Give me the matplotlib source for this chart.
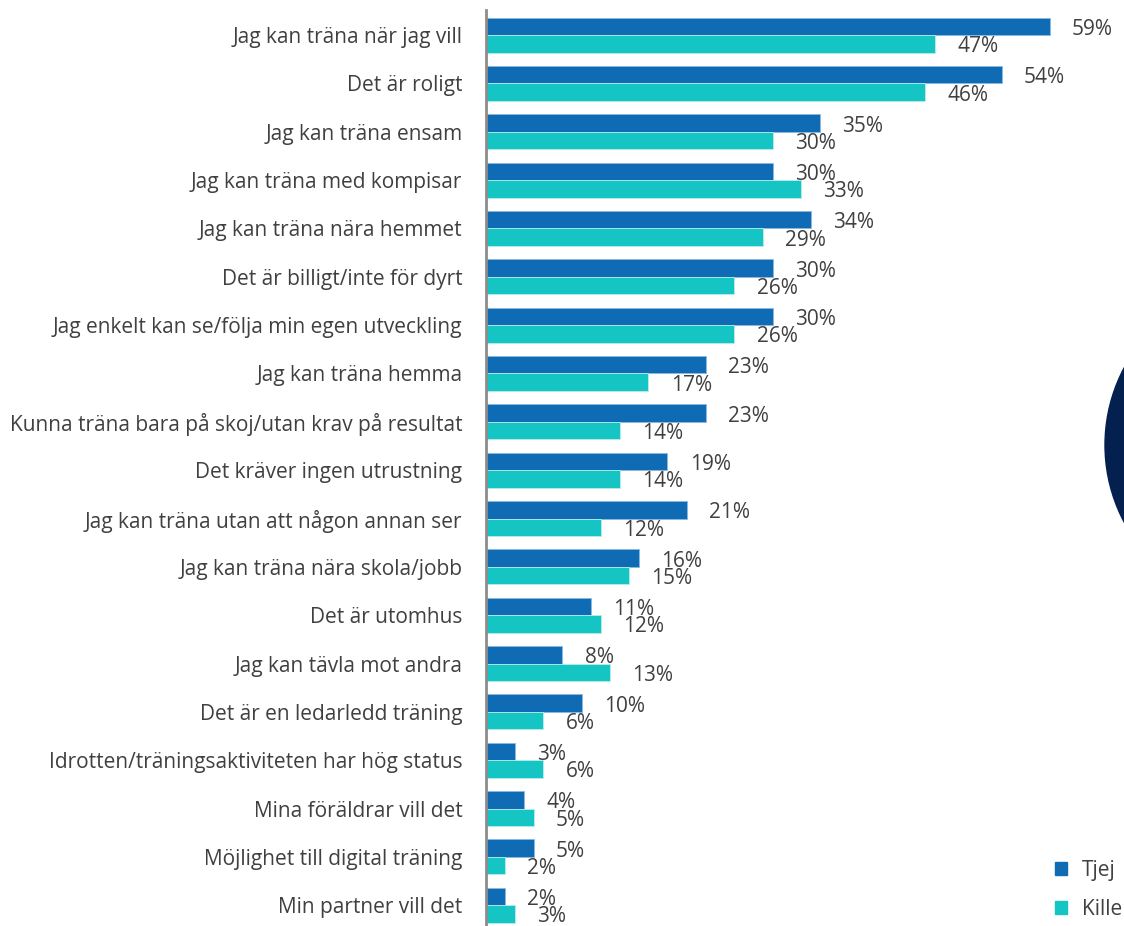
import matplotlib.pyplot as plt
import matplotlib.patches as mpatches
import numpy as np

plt.rcParams['font.family'] = ['Open Sans', 'DejaVu Sans']

categories = [
    "Jag kan träna när jag vill",
    "Det är roligt",
    "Jag kan träna ensam",
    "Jag kan träna med kompisar",
    "Jag kan träna nära hemmet",
    "Det är billigt/inte för dyrt",
    "Jag enkelt kan se/följa min egen utveckling",
    "Jag kan träna hemma",
    "Kunna träna bara på skoj/utan krav på resultat",
    "Det kräver ingen utrustning",
    "Jag kan träna utan att någon annan ser",
    "Jag kan träna nära skola/jobb",
    "Det är utomhus",
    "Jag kan tävla mot andra",
    "Det är en ledarledd träning",
    "Idrotten/träningsaktiviteten har hög status",
    "Mina föräldrar vill det",
    "Möjlighet till digital träning",
    "Min partner vill det",
]
tjej = [59, 54, 35, 30, 34, 30, 30, 23, 23, 19, 21, 16, 11, 8, 10, 3, 4, 5, 2]
kille = [47, 46, 30, 33, 29, 26, 26, 17, 14, 14, 12, 15, 12, 13, 6, 6, 5, 2, 3]

c_tjej = '#106bb5'
c_kille = '#14c5c4'
txt = '#404040'
fs = 15

fig = plt.figure(figsize=(11.24, 9.26), dpi=100)
ax = fig.add_axes([486 / 1124, 0, 1 - 486 / 1124, 1 - 10 / 926])

y = np.arange(len(categories))
h = 0.36
ax.barh(y - h / 2, tjej, height=h, color=c_tjej, edgecolor='#8ab8e0', linewidth=0.6, label='Tjej')
ax.barh(y + h / 2, kille, height=h, color=c_kille, edgecolor='#b8ecec', linewidth=0.6, label='Kille')

for i in range(len(categories)):
    ax.annotate(f"{tjej[i]}%", (tjej[i], i - h / 2 + 0.06), xytext=(16, 0), textcoords='offset points',
                va='center', ha='left', fontsize=fs, color=txt)
    ax.annotate(f"{kille[i]}%", (kille[i], i + h / 2 + 0.06), xytext=(16, 0), textcoords='offset points',
                va='center', ha='left', fontsize=fs, color=txt)

ax.set_xlim(0, 66.8)
ax.set_ylim(18.43, -0.52)
ax.set_yticks(y)
ax.set_yticklabels(categories, fontsize=fs, color=txt)
ax.tick_params(axis='y', length=0, pad=17)
ax.set_xticks([])
for s in ['top', 'right', 'bottom']:
    ax.spines[s].set_visible(False)
ax.spines['left'].set_color('#8c8c8c')
ax.spines['left'].set_linewidth(2)

# dark circle decoration at right edge
circ = mpatches.Ellipse((1270 / 1124, 1 - 445 / 926), 2 * 165 / 1124, 2 * 165 / 926,
                        transform=fig.transFigure, color='#03204f', zorder=0)
fig.patches.append(circ)

handles = [mpatches.Patch(color=c_tjej), mpatches.Patch(color=c_kille)]
leg = fig.legend(handles, ['Tjej', 'Kille'], loc='lower left', bbox_to_anchor=(1055 / 1124, 6 / 926),
                 frameon=False, fontsize=fs, handlelength=0.58, handleheight=0.58,
                 labelspacing=0.85, handletextpad=0.72, borderpad=0, borderaxespad=0,
                 labelcolor=txt)

fig.savefig('out.png', dpi=100)
